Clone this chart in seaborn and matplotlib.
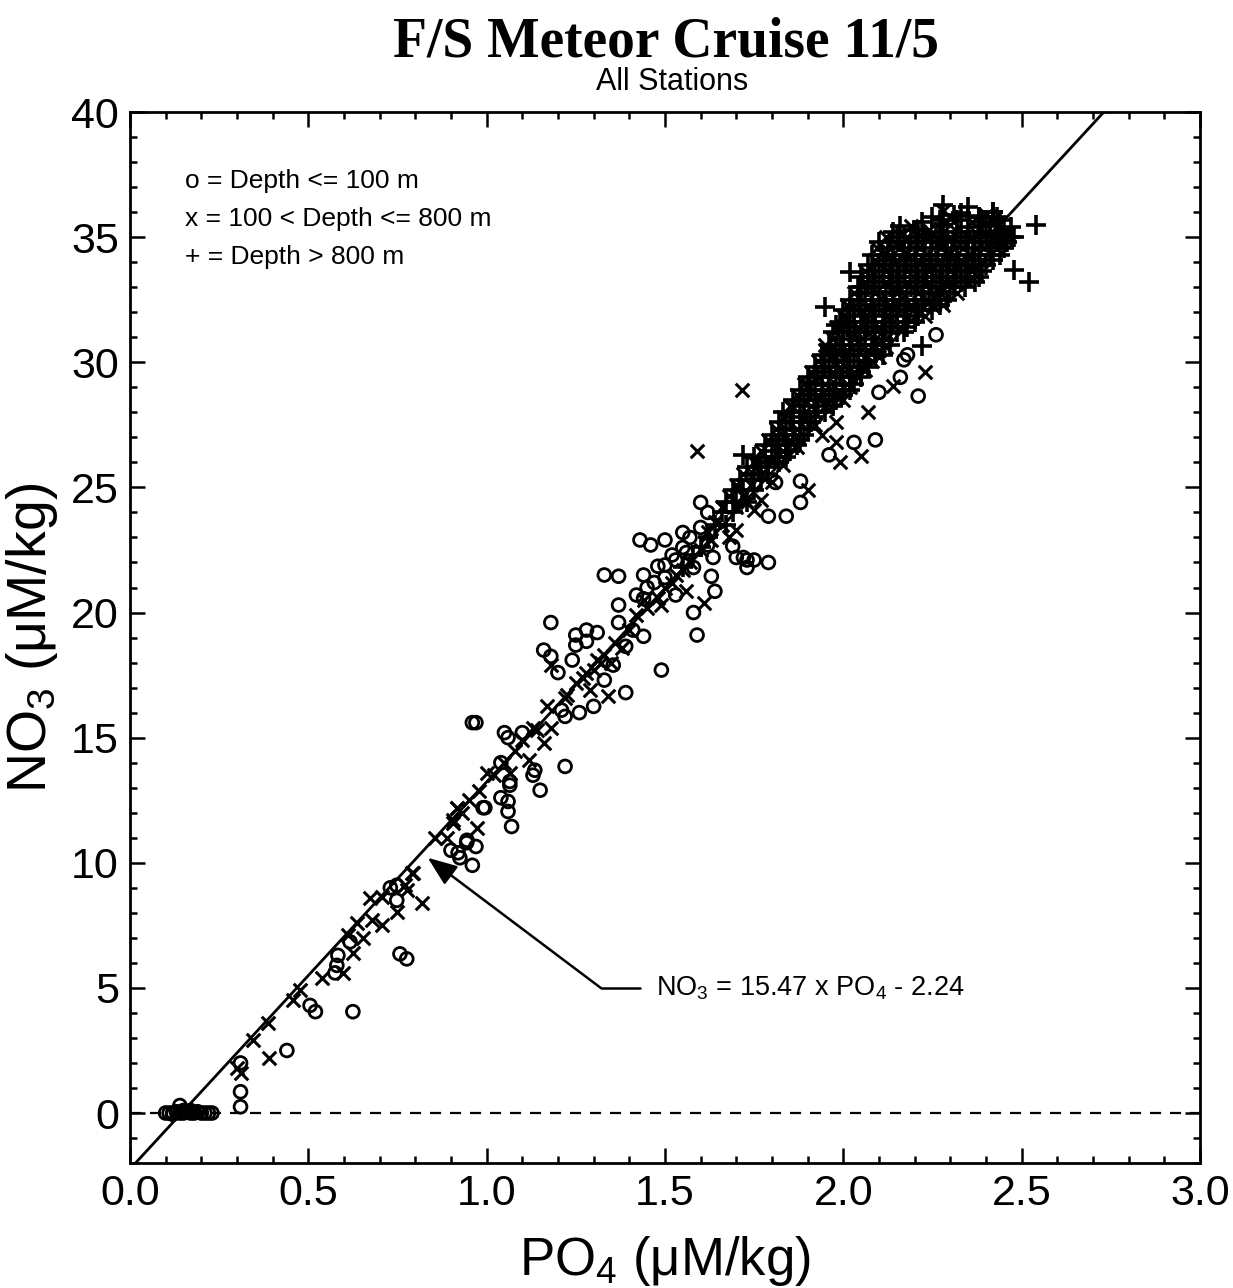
import matplotlib
matplotlib.use("Agg")
import matplotlib.pyplot as plt
import seaborn as sns
import pandas as pd
from matplotlib.ticker import MultipleLocator

# ---------------------------------------------------------------- data
# PO4 / NO3 pairs (uM/kg), grouped by sample depth

# Depth <= 100 m
shallow_po4 = [0.10, 0.11, 0.12, 0.13, 0.14, 0.14, 0.15, 0.16, 0.17, 0.18, 0.19, 0.20,
               0.21, 0.22, 0.23, 0.12, 0.15, 0.17,
               0.31, 0.31, 0.31, 0.44, 0.505, 0.52, 0.625, 0.757, 0.776, 0.583, 0.58,
               0.575, 0.617, 0.748, 0.748, 0.73,
               0.90, 0.925, 0.944, 0.97, 0.96, 0.99, 0.92, 0.945, 1.04, 1.06, 1.06, 1.07,
               0.995, 1.065, 1.065, 1.15, 1.04, 1.135, 1.13, 1.22, 0.97, 0.96, 1.05, 1.06,
               1.10, 1.21, 1.22, 1.26, 1.30, 1.39, 1.33, 1.49, 1.58, 1.59, 1.18, 1.25,
               1.28, 1.31, 1.25, 1.28, 1.16, 1.18, 1.20, 1.24, 1.37, 1.41, 1.44, 1.39,
               1.355, 1.37,
               1.60, 1.62, 1.79, 1.84, 1.81, 1.88, 1.43, 1.46, 1.50, 1.55, 1.69, 1.70,
               1.72, 1.75, 1.79, 1.73, 1.63, 1.64, 1.53, 1.48, 1.44, 1.42, 1.44, 1.37,
               1.33, 1.635, 2.03, 2.09, 1.96, 2.10, 2.18, 2.16, 2.21, 1.88, 2.17, 2.26,
               1.45, 1.50, 1.53, 1.56, 1.73,
               1.50, 1.52, 1.55, 1.47, 1.57, 1.60, 1.62, 1.58]
shallow_no3 = [0.0, 0.0, 0.0, 0.05, 0.3, 0.0, 0.0, 0.05, 0.0, 0.0, 0.05, 0.0,
               0.0, 0.0, 0.0, -0.05, 0.1, 0.1,
               2.0, 0.85, 0.25, 2.5, 4.3, 4.05, 4.05, 6.36, 6.16, 6.3, 5.9,
               5.6, 6.84, 9.1, 8.5, 9.0,
               10.5, 10.2, 10.8, 10.65, 9.9, 12.2, 10.4, 10.9, 12.6, 12.45, 12.05, 11.45,
               12.2, 13.25, 13.1, 12.9, 14.0, 13.7, 13.5, 13.85, 15.6, 15.6, 15.2, 15.0,
               15.2, 16.1, 15.85, 16.0, 16.25, 16.8, 17.3, 17.7, 20.0, 19.1, 19.6, 19.1,
               19.3, 19.2, 18.7, 18.85, 18.5, 18.25, 17.6, 18.1, 19.6, 19.3, 19.05, 18.65,
               17.9, 20.3,
               24.4, 24.0, 23.85, 23.85, 25.2, 24.4, 22.9, 22.7, 22.9, 23.2, 22.65, 22.2,
               22.2, 22.1, 22.0, 21.8, 21.45, 20.85, 20.7, 21.85, 21.5, 20.7, 20.55, 21.45,
               21.5, 22.2, 26.8, 26.9, 26.3, 28.8, 30.3, 29.4, 28.65, 25.25, 30.1, 31.1,
               21.0, 21.4, 22.1, 22.4, 22.1,
               21.9, 22.3, 22.6, 21.2, 23.0, 23.4, 22.7, 21.8]

# 100 < Depth <= 800 m
mid_po4 = [0.30, 0.31, 0.39, 0.345, 0.387, 0.457, 0.477, 0.538, 0.597, 0.625, 0.653, 0.636,
           0.678, 0.706, 0.673, 0.706, 0.748, 0.776, 0.793, 0.818, 0.855, 0.906, 0.917,
           0.973, 0.61,
           1.18, 1.29, 1.34, 1.17, 1.225, 1.12, 1.18, 1.16, 1.13, 1.08, 1.065, 1.00, 0.98,
           0.916, 0.93, 0.89, 0.79, 0.77, 0.906, 1.31, 1.49, 1.61, 1.56, 1.70, 1.73, 1.77,
           1.716, 1.59, 1.98, 1.99, 2.05, 1.90, 2.07, 1.98, 1.94, 1.86, 1.95, 1.98, 2.03,
           1.90, 2.14, 2.28, 2.23,
           1.25, 1.28, 1.33, 1.36, 1.40, 1.42, 1.45, 1.48, 1.52, 1.35, 1.38, 1.22, 1.14,
           1.10, 1.05, 1.02, 0.95, 1.55, 1.60, 1.63, 1.66, 1.68, 1.75, 1.80, 1.83, 1.87,
           1.92, 2.00, 2.02, 2.06, 2.10, 2.12,
           1.50, 1.53, 1.57, 1.44, 1.62, 1.64, 1.30, 1.32, 1.27,
           # within the dense upper cluster
           2.30, 2.36, 2.40,
           2.19, 2.24, 2.30, 2.37, 2.43, 2.46,
           2.12, 2.18, 2.24, 2.30, 2.36, 2.42, 2.45,
           2.095, 2.155, 2.215, 2.275, 2.335, 2.395, 2.43,
           2.09, 2.15, 2.21, 2.27, 2.33, 2.39,
           2.06, 2.12, 2.18, 2.24, 2.30, 2.36,
           2.06, 2.12, 2.18, 2.24, 2.30, 2.35,
           2.03, 2.09, 2.15, 2.21, 2.27, 2.32,
           2.01, 2.07, 2.13, 2.19, 2.25, 2.28,
           2.00, 2.06, 2.12, 2.18, 2.23,
           1.98, 2.04, 2.10, 2.16,
           1.97, 2.03, 2.09, 2.12,
           1.95, 2.01, 2.07, 2.10,
           1.93, 1.99, 2.05, 2.08,
           1.91, 1.97, 2.03,
           1.89, 1.95, 2.01,
           1.87, 1.93, 1.98,
           1.85, 1.91, 1.95,
           1.83, 1.89, 1.81, 1.87, 1.79, 1.85, 1.77, 1.83, 1.75, 1.80,
           1.72, 1.77, 1.70, 1.74, 1.68, 1.72, 1.66, 1.70]
mid_no3 = [1.8, 1.6, 2.2, 2.9, 3.6, 4.5, 4.9, 5.4, 5.6, 6.4, 7.0, 7.6,
           7.7, 7.5, 8.6, 8.65, 8.05, 8.9, 9.6, 8.4, 11.0, 11.7, 12.2,
           11.4, 7.1,
           17.9, 16.9, 16.65, 16.25, 16.7, 14.1, 15.4, 14.8, 15.4, 14.45, 13.6, 13.6, 12.85,
           12.2, 12.0, 11.0, 9.6, 9.1, 11.6, 18.1, 20.3, 20.4, 20.85, 23.3, 24.4, 24.5,
           28.9, 26.45, 26.8, 26.0, 26.25, 24.9, 28.0, 27.6, 27.1, 28.2, 30.7, 30.4, 31.1,
           29.1, 29.05, 36.05, 29.6,
           17.2, 17.6, 18.3, 18.8, 19.3, 19.9, 20.2, 20.6, 21.2, 18.0, 18.6, 16.6, 15.3,
           14.9, 14.0, 13.5, 12.5, 21.7, 22.5, 22.9, 23.5, 23.0, 24.1, 25.2, 25.9, 26.6,
           27.5, 28.5, 29.0, 29.7, 30.2, 30.6,
           21.0, 21.5, 22.0, 20.5, 23.2, 23.6, 17.7, 18.0, 17.4,
           35.8, 35.6, 35.9,
           35.45, 35.3, 35.5, 35.2, 35.45, 35.1,
           35.0, 35.0, 35.0, 35.0, 35.0, 35.0, 35.0,
           34.55, 34.55, 34.55, 34.55, 34.55, 34.55, 34.55,
           34.1, 34.1, 34.1, 34.1, 34.1, 34.1,
           33.65, 33.65, 33.65, 33.65, 33.65, 33.65,
           33.2, 33.2, 33.2, 33.2, 33.2, 33.2,
           32.75, 32.75, 32.75, 32.75, 32.75, 32.75,
           32.3, 32.3, 32.3, 32.3, 32.3, 32.3,
           31.85, 31.85, 31.85, 31.85, 31.85,
           31.4, 31.4, 31.4, 31.4,
           30.95, 30.95, 30.95, 30.95,
           30.5, 30.5, 30.5, 30.5,
           30.05, 30.05, 30.05, 30.05,
           29.6, 29.6, 29.6,
           29.15, 29.15, 29.15,
           28.7, 28.7, 28.7,
           28.25, 28.25, 28.25,
           27.8, 27.8, 27.35, 27.35, 26.9, 26.9, 26.45, 26.45, 26.0, 26.0,
           25.55, 25.55, 25.1, 25.1, 24.65, 24.65, 24.2, 24.2]

# Depth > 800 m
deep_po4 = [2.28, 2.31, 2.35, 2.38, 2.42,
            2.22, 2.25, 2.28, 2.32, 2.35, 2.38, 2.41, 2.44, 2.47,
            2.14, 2.17, 2.20, 2.23, 2.26, 2.29, 2.32, 2.35, 2.38, 2.41, 2.44, 2.48,
            2.10, 2.13, 2.16, 2.19, 2.22, 2.25, 2.28, 2.31, 2.34, 2.37, 2.40, 2.43, 2.46,
            2.08, 2.11, 2.14, 2.17, 2.20, 2.23, 2.26, 2.29, 2.32, 2.35, 2.38, 2.41, 2.44,
            2.07, 2.10, 2.13, 2.16, 2.19, 2.22, 2.25, 2.28, 2.31, 2.34, 2.37, 2.40,
            2.05, 2.08, 2.11, 2.14, 2.17, 2.20, 2.23, 2.26, 2.29, 2.32, 2.35, 2.38,
            2.04, 2.07, 2.10, 2.13, 2.16, 2.19, 2.22, 2.25, 2.28, 2.31, 2.34,
            2.02, 2.05, 2.08, 2.11, 2.14, 2.17, 2.20, 2.23, 2.26, 2.29,
            2.00, 2.03, 2.06, 2.09, 2.12, 2.15, 2.18, 2.21, 2.25,
            1.99, 2.02, 2.05, 2.08, 2.11, 2.14, 2.17, 2.20,
            1.97, 2.00, 2.03, 2.06, 2.09, 2.12, 2.15, 2.17,
            1.96, 1.99, 2.02, 2.05, 2.08, 2.11, 2.13,
            1.94, 1.97, 2.00, 2.03, 2.06, 2.09, 2.11,
            1.92, 1.95, 1.98, 2.01, 2.04, 2.07,
            1.90, 1.93, 1.96, 1.99, 2.02, 2.05,
            1.88, 1.91, 1.94, 1.97, 2.00, 2.02,
            1.86, 1.89, 1.92, 1.95, 1.98,
            1.83, 1.86, 1.89, 1.92, 1.95,
            1.82, 1.85, 1.88, 1.91,
            1.80, 1.83, 1.86, 1.89,
            1.78, 1.81, 1.84, 1.87,
            1.75, 1.78, 1.81, 1.84,
            1.73, 1.76, 1.79,
            1.71, 1.74, 1.77,
            1.69, 1.72, 1.75,
            1.67, 1.70, 1.73,
            1.66, 1.69,
            1.64, 1.67,
            # second, staggered layer of the cluster
            2.27, 2.33, 2.39, 2.43,
            2.16, 2.21, 2.27, 2.33, 2.40, 2.45,
            2.15, 2.21, 2.27, 2.33, 2.39, 2.47,
            2.125, 2.185, 2.245, 2.305, 2.365, 2.415, 2.45,
            2.12, 2.18, 2.24, 2.30, 2.36, 2.42,
            2.09, 2.15, 2.21, 2.27, 2.33, 2.39,
            2.09, 2.15, 2.21, 2.27, 2.33, 2.37,
            2.06, 2.12, 2.18, 2.24, 2.30,
            2.04, 2.10, 2.16, 2.22, 2.27,
            2.03, 2.09, 2.15, 2.21,
            2.01, 2.07, 2.13, 2.18,
            2.00, 2.06, 2.11,
            1.98, 2.04, 2.09,
            1.96, 2.02, 2.07,
            1.94, 2.00, 2.05,
            1.92, 1.98, 2.03,
            1.90, 1.96, 2.00,
            1.88, 1.93, 1.97,
            1.86, 1.92, 1.84, 1.90, 1.82, 1.88, 1.80, 1.85, 1.77, 1.82, 1.75, 1.79,
            # scattered deep samples around the cluster
            2.02, 2.05, 2.22, 2.35, 2.54, 2.48, 2.52, 2.42, 1.95, 1.98,
            1.55, 1.58, 1.60, 1.72, 1.62]
deep_no3 = [36.3, 35.9, 36.2, 35.8, 36.0,
            35.6, 35.8, 35.5, 35.7, 35.4, 35.8, 35.5, 35.7, 35.4,
            35.2, 35.0, 35.3, 35.1, 35.2, 34.9, 35.2, 35.0, 35.2, 35.1, 35.2, 35.0,
            34.8, 34.8, 34.8, 34.8, 34.8, 34.8, 34.8, 34.8, 34.8, 34.8, 34.8, 34.8, 34.8,
            34.3, 34.3, 34.3, 34.3, 34.3, 34.3, 34.3, 34.3, 34.3, 34.3, 34.3, 34.3, 34.3,
            33.9, 33.9, 33.9, 33.9, 33.9, 33.9, 33.9, 33.9, 33.9, 33.9, 33.9, 33.9,
            33.4, 33.4, 33.4, 33.4, 33.4, 33.4, 33.4, 33.4, 33.4, 33.4, 33.4, 33.4,
            33.0, 33.0, 33.0, 33.0, 33.0, 33.0, 33.0, 33.0, 33.0, 33.0, 33.0,
            32.5, 32.5, 32.5, 32.5, 32.5, 32.5, 32.5, 32.5, 32.5, 32.5,
            32.1, 32.1, 32.1, 32.1, 32.1, 32.1, 32.1, 32.1, 32.1,
            31.6, 31.6, 31.6, 31.6, 31.6, 31.6, 31.6, 31.6,
            31.2, 31.2, 31.2, 31.2, 31.2, 31.2, 31.2, 31.2,
            30.7, 30.7, 30.7, 30.7, 30.7, 30.7, 30.7,
            30.3, 30.3, 30.3, 30.3, 30.3, 30.3, 30.3,
            29.8, 29.8, 29.8, 29.8, 29.8, 29.8,
            29.4, 29.4, 29.4, 29.4, 29.4, 29.4,
            28.9, 28.9, 28.9, 28.9, 28.9, 28.9,
            28.5, 28.5, 28.5, 28.5, 28.5,
            28.0, 28.0, 28.0, 28.0, 28.0,
            27.6, 27.6, 27.6, 27.6,
            27.1, 27.1, 27.1, 27.1,
            26.7, 26.7, 26.7, 26.7,
            26.2, 26.2, 26.2, 26.2,
            25.8, 25.8, 25.8,
            25.3, 25.3, 25.3,
            24.9, 24.9, 24.9,
            24.4, 24.4, 24.4,
            24.0, 24.0,
            23.5, 23.5,
            35.7, 35.95, 35.6, 35.8,
            35.45, 35.3, 35.45, 35.2, 35.45, 35.3,
            35.0, 35.0, 35.0, 35.0, 35.0, 35.0,
            34.55, 34.55, 34.55, 34.55, 34.55, 34.55, 34.55,
            34.1, 34.1, 34.1, 34.1, 34.1, 34.1,
            33.65, 33.65, 33.65, 33.65, 33.65, 33.65,
            33.2, 33.2, 33.2, 33.2, 33.2, 33.2,
            32.75, 32.75, 32.75, 32.75, 32.75,
            32.3, 32.3, 32.3, 32.3, 32.3,
            31.85, 31.85, 31.85, 31.85,
            31.4, 31.4, 31.4, 31.4,
            30.95, 30.95, 30.95,
            30.5, 30.5, 30.5,
            30.05, 30.05, 30.05,
            29.6, 29.6, 29.6,
            29.15, 29.15, 29.15,
            28.7, 28.7, 28.7,
            28.25, 28.25, 28.25,
            27.8, 27.8, 27.35, 27.35, 26.9, 26.9, 26.45, 26.45, 26.0, 26.0, 25.55, 25.55,
            33.6, 33.0, 30.65, 35.85, 35.5, 33.7, 33.2, 36.0, 32.2, 31.5,
            21.8, 22.3, 22.6, 26.3, 23.0]

# Least-squares fit NO3 = slope * PO4 + intercept
fit_slope = 15.47
fit_intercept = -2.24
fit_label = r"NO$_\mathregular{3}$ = 15.47 x PO$_\mathregular{4}$ - 2.24"

legend_lines = ["o = Depth <= 100 m", "x = 100 < Depth <= 800 m", "+ = Depth > 800 m"]

x_ticks = [0.0, 0.5, 1.0, 1.5, 2.0, 2.5, 3.0]
y_ticks = [0, 5, 10, 15, 20, 25, 30, 35, 40]

# ---------------------------------------------------------------- style
sns.set_theme(style="ticks")
sans = ["Liberation Sans", "DejaVu Sans"]
plt.rcParams["font.family"] = sans
plt.rcParams["mathtext.fontset"] = "custom"
plt.rcParams["mathtext.rm"] = "Liberation Sans"
for key in ["text.color", "axes.labelcolor", "xtick.color", "ytick.color",
            "axes.edgecolor"]:
    plt.rcParams[key] = "black"

fig = plt.figure(figsize=(12.33, 12.88), dpi=100)
fig.patch.set_facecolor("white")
ax = fig.add_axes([0.1054, 0.0970, 0.8678, 0.8160])
ax.set_facecolor("white")

shallow = pd.DataFrame({"PO4": shallow_po4, "NO3": shallow_no3})
mid = pd.DataFrame({"PO4": mid_po4, "NO3": mid_no3})
deep = pd.DataFrame({"PO4": deep_po4, "NO3": deep_no3})

# zero reference
ax.axhline(0, color="black", lw=1.6, ls=(0, (5, 4)), zorder=1)

# regression line
fit_x = [0.0, 3.0]
fit = pd.DataFrame({"PO4": fit_x,
                    "NO3": [fit_slope * v + fit_intercept for v in fit_x]})
sns.lineplot(data=fit, x="PO4", y="NO3", color="black", lw=2.0, ax=ax, zorder=2)

sns.scatterplot(data=deep, x="PO4", y="NO3", marker="+", color="black",
                s=190, linewidth=2.6, ax=ax, zorder=3)
sns.scatterplot(data=mid, x="PO4", y="NO3", marker="x", color="black",
                s=95, linewidth=2.2, ax=ax, zorder=3)
sns.scatterplot(data=shallow, x="PO4", y="NO3", marker="o", facecolors="none",
                edgecolor="black", s=85, linewidth=2.0, ax=ax, zorder=3)

# ---------------------------------------------------------------- axes
ax.set_xlim(0, 3.0)
ax.set_ylim(-2, 40)
ax.set_xticks(x_ticks)
ax.set_yticks(y_ticks)
ax.set_xticklabels([f"{v:.1f}" for v in x_ticks])
ax.set_yticklabels([str(v) for v in y_ticks])
ax.xaxis.set_minor_locator(MultipleLocator(0.1))
ax.yaxis.set_minor_locator(MultipleLocator(1))
ax.tick_params(which="both", direction="in", top=True, right=True, color="black",
               width=1.8)
ax.tick_params(which="major", length=11, labelsize=31, pad=8)
ax.tick_params(which="minor", length=5)
for spine in ax.spines.values():
    spine.set_visible(True)
    spine.set_linewidth(2.0)
    spine.set_color("black")

ax.set_xlabel(r"PO$_\mathregular{4}$ (μM/kg)", fontsize=38, labelpad=14)
ax.set_ylabel(r"NO$_\mathregular{3}$ (μM/kg)", fontsize=40, labelpad=8)

# legend written as text lines
for i, line in enumerate(legend_lines):
    ax.text(0.154, 37.24 - 1.52 * i, line, fontsize=19, va="center", ha="left")

# annotation of the fit
elbow = (1.32, 5.0)
ax.annotate("", xy=(0.835, 10.2), xytext=elbow,
            arrowprops=dict(arrowstyle="-|>,head_length=0.9,head_width=0.35",
                            color="black", lw=1.8, shrinkA=0, shrinkB=0,
                            mutation_scale=20))
ax.plot([elbow[0], 1.43], [elbow[1], elbow[1]], color="black", lw=1.8)
ax.text(1.475, 5.0, fit_label, fontsize=19.5, va="center", ha="left")

# titles
fig.text(0.540, 0.967, "F/S Meteor Cruise 11/5", ha="center", va="center",
         family="Liberation Serif", weight="bold", fontsize=40)
fig.text(0.545, 0.936, "All Stations", ha="center", va="center", fontsize=22)

fig.savefig("out.png", dpi=100, facecolor="white")
